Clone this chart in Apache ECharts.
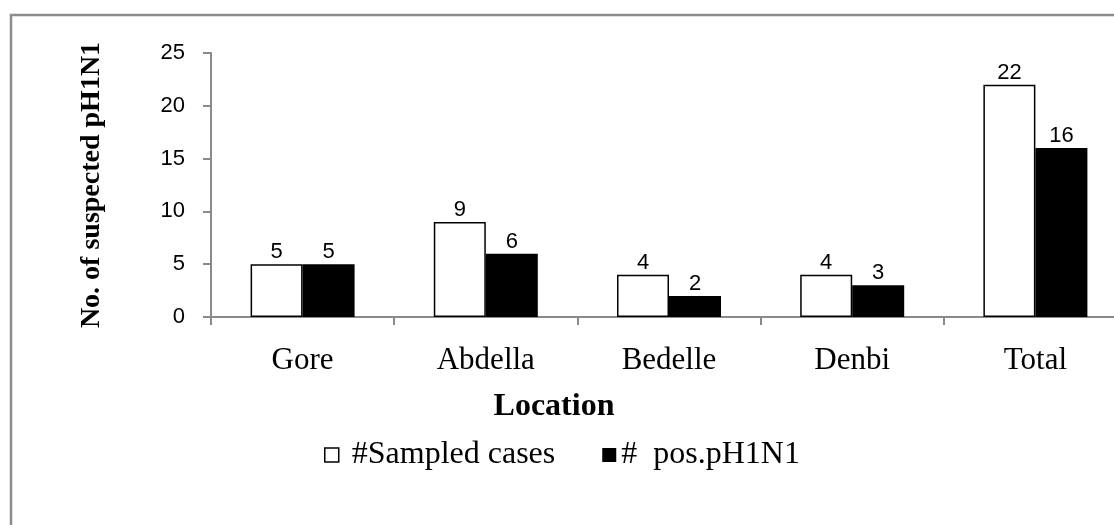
<!DOCTYPE html>
<html>
<head>
<meta charset="utf-8">
<script src="https://cdn.jsdelivr.net/npm/echarts@6/dist/echarts.min.js"></script>
<style>
  html, body { margin: 0; padding: 0; background: #fff; }
  #chart { width: 1114px; height: 525px; }
</style>
</head>
<body>
<div id="chart"></div>
<script>
// Sampled suspected pH1N1 cases and positives by location
const locations = ['Gore', 'Abdella', 'Bedelle', 'Denbi', 'Total'];
const sampledCases = [5, 9, 4, 4, 22];
const positiveCases = [5, 6, 2, 3, 16];
const seriesNames = [' #Sampled cases', '#  pos.pH1N1'];
const yTicks = { min: 0, max: 25, interval: 5 };

const serif = '"Liberation Serif", "Times New Roman", serif';
const sans = '"Liberation Sans", Arial, sans-serif';
const axisGray = '#8a8a8a';

const chart = echarts.init(document.getElementById('chart'), null, { renderer: 'canvas' });

const valueLabel = {
  show: true,
  position: 'top',
  distance: 1,
  color: '#000',
  fontFamily: sans,
  fontSize: 22
};

chart.setOption({
  animation: false,
  backgroundColor: '#fff',
  // plot area runs past the right edge of the frame
  grid: {
    left: 211,
    width: 916,
    top: 53,
    bottom: 208,
    containLabel: false,
    outerBoundsMode: 'none'
  },
  title: {
    text: 'Location',
    left: 549,
    top: 386,
    textAlign: 'center',
    textStyle: { fontFamily: serif, fontWeight: 'bold', fontSize: 32, color: '#000' }
  },
  legend: {
    data: [
      { name: seriesNames[0], icon: 'rect', itemStyle: { color: '#fff', borderColor: '#000', borderWidth: 1.5 } },
      { name: seriesNames[1], icon: 'rect', itemStyle: { color: '#000' } }
    ],
    left: 319,
    top: 434,
    itemWidth: 14,
    itemHeight: 14,
    itemGap: 47,
    textStyle: { fontFamily: serif, fontSize: 32, color: '#000' }
  },
  xAxis: {
    type: 'category',
    data: locations,
    axisLine: { lineStyle: { color: axisGray, width: 2 } },
    axisTick: { show: true, length: 8, lineStyle: { color: axisGray, width: 2 } },
    axisLabel: { margin: 28, color: '#000', fontFamily: serif, fontSize: 31 }
  },
  yAxis: {
    type: 'value',
    min: yTicks.min,
    max: yTicks.max,
    interval: yTicks.interval,
    name: 'No. of suspected pH1N1',
    nameLocation: 'middle',
    nameRotate: 90,
    nameGap: 105,
    nameTextStyle: { fontFamily: serif, fontWeight: 'bold', fontSize: 28, color: '#000' },
    axisLine: { show: true, lineStyle: { color: axisGray, width: 2 } },
    axisTick: { show: true, length: 8, lineStyle: { color: axisGray, width: 2 } },
    splitLine: { show: false },
    axisLabel: { margin: 26, color: '#000', fontFamily: sans, fontSize: 22 }
  },
  series: [
    {
      name: seriesNames[0],
      type: 'bar',
      data: sampledCases,
      barWidth: 52,
      barGap: '0%',
      itemStyle: { color: '#fff', borderColor: '#000', borderWidth: 1.5 },
      label: valueLabel
    },
    {
      name: seriesNames[1],
      type: 'bar',
      data: positiveCases,
      barWidth: 52,
      barGap: '0%',
      itemStyle: { color: '#000' },
      label: valueLabel
    }
  ],
  graphic: [
    {
      type: 'rect',
      z: -1,
      shape: { x: 11, y: 15, width: 1200, height: 600 },
      style: { fill: 'none', stroke: '#8c8c8c', lineWidth: 2.5 }
    }
  ]
});
</script>
</body>
</html>
